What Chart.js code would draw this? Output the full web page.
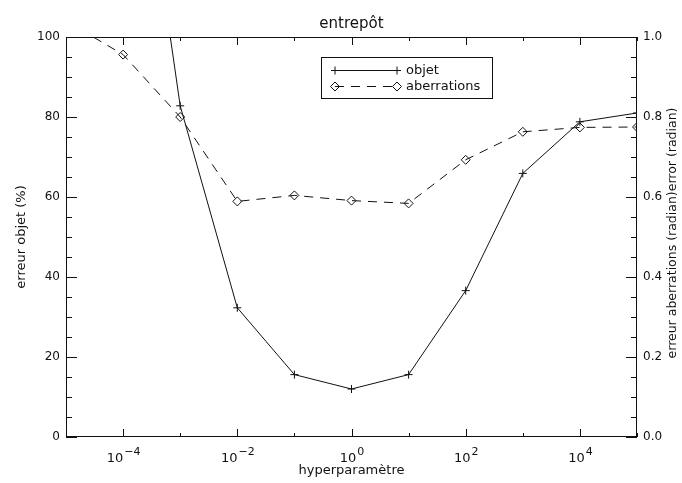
<!DOCTYPE html>
<html>
<head>
<meta charset="utf-8">
<script src="https://cdn.jsdelivr.net/npm/chart.js@4.4.1/dist/chart.umd.min.js"></script>
<style>
  html, body { margin: 0; padding: 0; background: #fff; }
  #wrap { width: 682px; height: 483px; }
</style>
</head>
<body>
<div id="wrap"><canvas id="chart"></canvas></div>
<script>
// hyperparamètre (échelle log) et erreurs
const hyperValues = [1e-5, 1e-4, 1e-3, 1e-2, 1e-1, 1e0, 1e1, 1e2, 1e3, 1e4, 1e5];
const objetErr = [null, 182, 82.8, 32.3, 15.6, 12.0, 15.6, 36.6, 65.9, 78.8, 81.0];
const aberrErr = [1.04, 0.956, 0.800, 0.589, 0.604, 0.591, 0.584, 0.693, 0.763, 0.774, 0.775];

// graduations
const xTickExps = [-4, -2, 0, 2, 4];
const leftTicks = [0, 20, 40, 60, 80, 100];
const rightTicks = [0, 0.2, 0.4, 0.6, 0.8, 1.0];
const rightTickLabels = ['0.0', '0.2', '0.4', '0.6', '0.8', '1.0'];

const FONT = "'DejaVu Sans', sans-serif";
const INK = '#111';

const toPoints = (ys) => hyperValues.map((x, i) => ({ x: x, y: ys[i] }));

// cadre, graduations intérieures, titres et légende
const decor = {
  id: 'decor',
  afterDraw(chart) {
    const { ctx, chartArea: a, scales } = chart;
    const xs = scales.x, yl = scales.y, yr = scales.y1;
    ctx.save();
    ctx.strokeStyle = INK;
    ctx.lineWidth = 1;

    ctx.strokeRect(a.left + 0.5, a.top + 0.5, a.right - a.left - 1, a.bottom - a.top - 1);

    ctx.beginPath();
    for (let e = -5; e <= 5; e++) {
      const px = Math.round(xs.getPixelForValue(Math.pow(10, e))) + 0.5;
      const len = e % 2 === 0 ? 8 : 4;
      ctx.moveTo(px, a.bottom); ctx.lineTo(px, a.bottom - len);
      ctx.moveTo(px, a.top); ctx.lineTo(px, a.top + len);
    }
    for (let v = 0; v <= 100; v += 5) {
      const py = Math.round(yl.getPixelForValue(v)) + 0.5;
      ctx.moveTo(a.left, py); ctx.lineTo(a.left + (v % 20 === 0 ? 11 : 6), py);
    }
    for (let k = 0; k <= 20; k++) {
      const py = Math.round(yr.getPixelForValue(k / 20)) + 0.5;
      ctx.moveTo(a.right, py); ctx.lineTo(a.right - (k % 4 === 0 ? 11 : 6), py);
    }
    ctx.stroke();

    // étiquettes 10^n
    ctx.fillStyle = INK;
    ctx.textBaseline = 'alphabetic';
    ctx.textAlign = 'left';
    xTickExps.forEach(e => {
      const px = xs.getPixelForValue(Math.pow(10, e));
      const exp = e < 0 ? '\u2212' + (-e) : String(e);
      ctx.font = '13px ' + FONT;
      const w10 = ctx.measureText('10').width;
      ctx.font = '11px ' + FONT;
      const wExp = ctx.measureText(exp).width;
      const x0 = px - (w10 + wExp) / 2;
      ctx.font = '13px ' + FONT;
      ctx.fillText('10', x0, 462);
      ctx.font = '11px ' + FONT;
      ctx.fillText(exp, x0 + w10 + 1, 455);
    });

    // titre
    ctx.font = '15px ' + FONT;
    ctx.textAlign = 'center';
    ctx.fillText('entrepôt', (a.left + a.right) / 2, 28);

    // titre de l'axe de droite
    ctx.save();
    ctx.translate(673, 233);
    ctx.rotate(-Math.PI / 2);
    ctx.font = '12.5px ' + FONT;
    ctx.textBaseline = 'middle';
    ctx.fillText('erreur aberrations (radian)error (radian)', 0, 0);
    ctx.restore();

    // légende
    const bx = 321, by = 57, bw = 171, bh = 41;
    ctx.strokeRect(bx + 0.5, by + 0.5, bw, bh);
    const rows = [
      { y: 70.5, ds: chart.data.datasets[0] },
      { y: 86.5, ds: chart.data.datasets[1] }
    ];
    const x1 = 335, x2 = 397;
    rows.forEach(r => {
      ctx.beginPath();
      ctx.setLineDash(r.ds.borderDash || []);
      ctx.moveTo(x1, r.y); ctx.lineTo(x2, r.y);
      ctx.stroke();
      ctx.setLineDash([]);
      ctx.fillStyle = 'rgba(0,0,0,0)';
      [x1, x2].forEach(px => {
        Chart.helpers.drawPoint(ctx, {
          pointStyle: r.ds.pointStyle, radius: r.ds.pointRadius,
          borderWidth: 1, rotation: 0
        }, px, r.y);
      });
      ctx.fillStyle = INK;
      ctx.font = '13px ' + FONT;
      ctx.textAlign = 'left';
      ctx.textBaseline = 'middle';
      ctx.fillText(r.ds.label, 406, r.y);
    });
    ctx.restore();
  }
};

const ctx = document.getElementById('chart').getContext('2d');

new Chart(ctx, {
  type: 'line',
  data: {
    datasets: [{
      label: 'objet',
      data: toPoints(objetErr),
      yAxisID: 'y',
      borderColor: INK,
      borderWidth: 1,
      pointStyle: 'cross',
      pointRadius: 4,
      pointBorderColor: INK,
      pointBorderWidth: 1,
      tension: 0
    }, {
      label: 'aberrations',
      data: toPoints(aberrErr),
      yAxisID: 'y1',
      borderColor: INK,
      borderWidth: 1,
      borderDash: [9, 7],
      pointStyle: 'rectRot',
      pointRadius: 4.5,
      pointBorderColor: INK,
      pointBackgroundColor: 'rgba(0,0,0,0)',
      pointBorderWidth: 1,
      tension: 0
    }]
  },
  options: {
    responsive: true,
    maintainAspectRatio: false,
    devicePixelRatio: 1,
    animation: false,
    layout: { padding: { top: 37, left: 0, right: 0, bottom: 0 } },
    plugins: {
      legend: { display: false },
      tooltip: { enabled: false },
      title: { display: false }
    },
    scales: {
      x: {
        type: 'logarithmic',
        position: 'bottom',
        min: 1e-5,
        max: 1e5,
        grid: { display: false, drawTicks: false },
        border: { display: false },
        ticks: { display: false },
        title: {
          display: true,
          text: 'hyperparamètre',
          color: INK,
          font: { family: FONT, size: 13 },
          padding: { top: 0, bottom: 5 }
        },
        afterFit: (s) => { s.height = 46; }
      },
      y: {
        position: 'left',
        min: 0,
        max: 100,
        grid: { display: false, drawTicks: false },
        border: { display: false },
        afterBuildTicks: (s) => { s.ticks = leftTicks.map(v => ({ value: v })); },
        ticks: {
          color: INK,
          padding: 6,
          font: { family: FONT, size: 12 },
          callback: (v) => String(v)
        },
        title: {
          display: true,
          text: 'erreur objet (%)',
          color: INK,
          font: { family: FONT, size: 13 },
          padding: { top: 14, bottom: 0 }
        },
        afterFit: (s) => { s.width = 66; }
      },
      y1: {
        position: 'right',
        min: 0,
        max: 1,
        grid: { display: false, drawTicks: false },
        border: { display: false },
        afterBuildTicks: (s) => { s.ticks = rightTicks.map(v => ({ value: v })); },
        ticks: {
          color: INK,
          padding: 6,
          font: { family: FONT, size: 12 },
          callback: (v, i) => rightTickLabels[i]
        },
        afterFit: (s) => { s.width = 45; }
      }
    }
  },
  plugins: [decor]
});
</script>
</body>
</html>
